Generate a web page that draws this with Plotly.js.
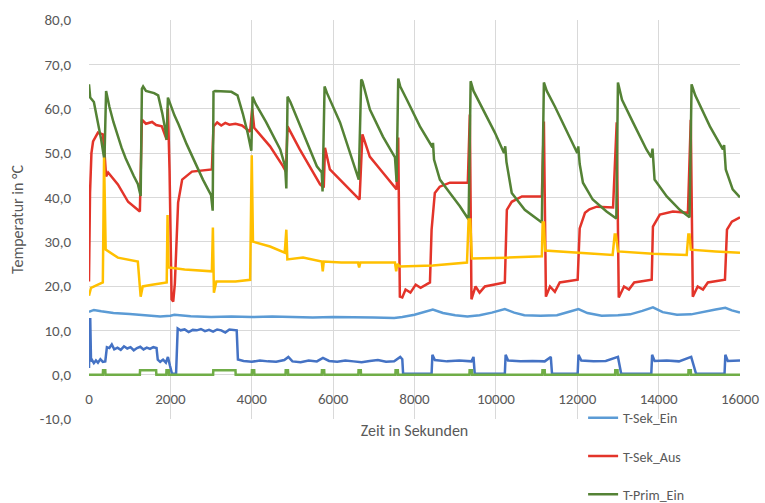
<!DOCTYPE html>
<html>
<head>
<meta charset="utf-8">
<script src="https://cdn.plot.ly/plotly-3.0.1.min.js"></script>
<style>html,body{margin:0;padding:0;background:#fff;}#chart{width:765px;height:503px;}</style>
</head>
<body>
<div id="chart"></div>
<script>
// ---- Data (time in s, temperature in °C) ----
const xTickVals = [0, 2000, 4000, 6000, 8000, 10000, 12000, 14000, 16000];
const yTickVals = [-10, 0, 10, 20, 30, 40, 50, 60, 70, 80];
const yTickText = ["-10,0", "0,0", "10,0", "20,0", "30,0", "40,0", "50,0", "60,0", "70,0", "80,0"];

const sekEinX = [0,120,300,600,1000,1500,1750,2000,2100,2500,3000,3500,4000,4500,5000,5500,6000,6500,7000,7500,7700,8000,8200,8450,8700,9000,9300,9600,9900,10220,10450,10700,11100,11500,11800,12030,12250,12600,13000,13300,13600,13860,14100,14450,14800,15100,15400,15640,15800,16000];
const sekEinY = [14.2,14.6,14.3,13.9,13.7,13.4,13.1,13.3,13.5,13.2,13.0,13.1,13.0,13.1,13.0,12.9,13.0,13.0,12.9,12.8,13.0,13.5,14.0,14.7,13.9,13.4,13.1,13.4,14.0,14.8,14.0,13.4,13.3,13.4,14.2,14.8,13.9,13.3,13.4,13.6,14.4,15.2,14.1,13.5,13.6,14.2,14.7,15.1,14.5,14.0];

const sekAusX = [0,25,60,100,220,340,380,420,470,710,960,1250,1300,1400,1550,1650,1790,1910,1940,1980,2030,2070,2110,2190,2290,2530,3020,3060,3150,3250,3350,3450,3600,3760,3960,4010,4060,4450,4770,4840,4880,5180,5680,5770,5800,5920,6240,6610,6650,6720,6900,7220,7560,7600,7640,7700,7780,7900,8030,8150,8380,8420,8500,8620,8870,9310,9360,9400,9500,9600,9730,10220,10270,10390,10640,11130,11180,11230,11330,11450,11570,12010,12060,12190,12300,12480,12880,12970,13020,13150,13270,13400,13830,13860,14030,14350,14720,14790,14840,14960,15090,15210,15630,15680,15800,16000];
const sekAusY = [21,41,50,52.6,54.6,54.2,50.3,44.7,45.6,42.9,39,36.8,57.5,56.6,57.0,56.3,56,53,60.2,46,17,16.5,20.5,38.8,44,45.8,46.3,56,56.9,56.2,56.8,56.4,56.6,56.2,54.8,60,55.7,51.5,47,45.8,56,50.8,42.9,42.2,51.2,46.3,43.3,40,39.5,54.2,49.2,45.6,41.8,53.5,17.6,17.4,19.2,18.5,20.3,19.6,20.8,32.7,41,42.4,43.3,43.3,58.7,17,19.9,18.5,19.9,20.8,37.2,39,40.2,40.2,57.1,17.6,19.9,18.7,20.8,21.4,33,36.5,37.3,37.9,37.7,56.9,17.4,19.9,19.2,20.8,21.4,33.4,36.1,36.8,36.5,57.5,17.6,19.9,19.2,20.8,21.4,32.7,34.5,35.5];

const primEinX = [0,30,120,200,300,360,380,420,500,600,700,800,900,1000,1100,1200,1270,1300,1330,1400,1600,1700,1800,1880,1905,1940,2000,2100,2200,2400,2600,2800,3000,3040,3060,3100,3500,3650,3780,3900,3990,4020,4100,4350,4700,4820,4850,4880,4950,5260,5600,5720,5740,5790,5850,6170,6580,6630,6690,6720,6904,7224,7520,7560,7600,7650,7813,8133,8440,8455,8480,8624,8870,9115,9330,9380,9450,9650,9975,10200,10230,10260,10390,10710,11130,11180,11250,11450,11770,12000,12025,12060,12140,12380,12720,12960,13000,13100,13370,13700,13820,13850,13900,14200,14520,14760,14810,14900,15260,15580,15610,15650,15820,16000];
const primEinY = [65.5,62.5,61.5,58,53,49.5,48.5,64,60.5,57,54,51.2,48.8,46.7,44.8,43,40.3,64.5,65,64,63.5,63,59,55,53,62.5,61,58.5,56.5,52,48,44,40.5,37,63.8,64,63.8,63,58.9,54.5,50.5,62.7,61,57,50.8,47,42,62.7,61.5,54.6,47,45.6,41.3,65,63.5,56.9,45,44,66.6,66.2,59.8,53.7,49,43.5,66.8,65,62,56,51.3,52.3,48.5,44,41,38,35,66.2,64,60.5,54.6,50,51.5,48,41,37.2,34.3,65.9,64,60.5,54.6,50,51.5,47.5,43.3,39.5,36.8,35.2,65.9,62,56.9,50.8,49,51,44,40.2,37.2,35.5,65.5,63,56,50.8,51.8,46.3,41.8,40];

const primAusX = [0,50,220,340,370,410,710,1200,1270,1320,1550,1910,1930,1955,2350,3020,3045,3070,3130,3600,3960,4000,4030,4450,4810,4850,4875,5260,5720,5745,5770,6200,6610,6640,6670,7520,7550,7580,7640,8450,9290,9330,9370,9410,10270,11130,11150,11180,11210,12060,12870,12920,12950,13000,13860,14690,14730,14760,14790,15400,16000];
const primAusY = [17.8,19.6,20.3,20.8,49,28.2,26.4,25.5,17.6,19.9,20.3,20.8,36,24.2,23.7,23.3,33.2,18.5,21,21,21.4,49.5,30,28.9,27.5,32.7,26,26.4,25.5,23.3,25.5,25.3,25.3,24.2,25.3,25.3,23.3,25,24.4,24.6,25.3,35,35,26.2,26.4,26.7,34.3,34.3,28,27.5,27,31.6,31.6,27.8,27.3,27,31.6,31.6,28.2,27.8,27.5];

const flowX = [0,30,50,75,120,170,220,280,340,400,440,500,560,620,700,780,860,940,1020,1100,1180,1260,1340,1420,1500,1580,1660,1690,1750,1820,1890,1940,1990,2040,2140,2180,2250,2350,2450,2550,2650,2750,2850,2950,3050,3150,3250,3350,3450,3550,3630,3660,3800,4000,4200,4400,4600,4800,4900,5000,5200,5400,5600,5750,5900,6100,6300,6500,6700,6900,7100,7300,7500,7650,7700,7720,8420,8440,8500,8800,9100,9400,9450,9480,9500,10220,10240,10300,10600,10900,11200,11350,11380,11400,12010,12030,12100,12400,12700,13000,13080,13100,13820,13840,13900,14200,14500,14800,14920,14940,15620,15640,15700,16000];
const flowY = [1.5,12.8,3.0,3.3,2.6,3.2,2.7,3.5,2.9,3.0,6.2,6.0,6.8,5.7,6.1,5.6,6.4,5.9,6.2,5.5,6.0,6.3,5.7,6.1,5.8,6.2,6.0,3.4,2.9,3.4,2.7,4.0,2.0,0.2,0.2,10.4,10.0,10.2,9.6,10.1,10.0,10.3,9.8,10.1,9.7,10.2,10.0,9.5,10.2,10.0,10.0,3.4,3.1,2.9,3.2,3.0,2.9,3.3,4.0,3.0,2.8,3.2,3.0,3.8,3.1,2.9,3.2,3.0,2.8,3.1,3.3,2.9,3.0,4.0,3.5,0.2,0.2,4.5,3.3,3.0,3.2,3.0,4.0,0.2,0.2,0.2,4.5,3.2,3.0,3.1,3.0,4.0,0.2,0.2,0.2,4.5,3.2,3.0,3.1,4.0,0.2,0.2,0.2,4.5,3.1,3.2,3.0,4.0,0.2,0.2,0.2,4.5,3.1,3.2];

const pumpX = [0,340,345,400,405,1250,1255,1650,1655,1900,1905,1960,1965,3050,3055,3600,3605,4000,4005,4060,4065,4830,4835,4890,4895,5720,5725,5780,5785,6620,6625,6680,6685,7530,7535,7590,7595,9350,9355,9410,9415,11140,11145,11200,11205,12930,12935,12990,12995,14730,14735,14790,14795,16000];
const pumpY = [0,0,1,1,0,0,1,1,0,0,1,1,0,0,1,1,0,0,1,1,0,0,1,1,0,0,1,1,0,0,1,1,0,0,1,1,0,0,1,1,0,0,1,1,0,0,1,1,0,0,1,1,0,0];

const seriesNames = ["T-Sek_Ein", "T-Sek_Aus", "T-Prim_Ein", "T-Prim_Aus", "Volumenstrom", "Pumpe"];
const seriesColors = ["#5b9bd5", "#e3342a", "#548235", "#ffc000", "#4472c4", "#70ad47"];

// ---- Build traces ----
const xs = [sekEinX, sekAusX, primEinX, primAusX, flowX, pumpX];
const ys = [sekEinY, sekAusY, primEinY, primAusY, flowY, pumpY];
const traces = xs.map((x, i) => ({
  type: "scatter", mode: "lines", x: x, y: ys[i], name: seriesNames[i],
  line: {color: seriesColors[i], width: 2.5},
  legendgroup: "g" + i,
  showlegend: i < 3
}));

const font = "Carlito, Lato, 'Open Sans', sans-serif";
const layout = {
  width: 765, height: 503,
  margin: {l: 89, r: 25, t: 20, b: 84, autoexpand: false},
  paper_bgcolor: "#fff", plot_bgcolor: "#fff",
  separators: ",.",
  font: {family: font, size: 14, color: "#595959"},
  showlegend: true,
  legend: {x: 0.759, y: 0.042, xanchor: "left", yanchor: "top", traceorder: "grouped",
           tracegroupgap: 17, bgcolor: "rgba(0,0,0,0)", font: {family: font, size: 14, color: "#595959"}},
  xaxis: {range: [0, 16000], tickvals: xTickVals, tickformat: "d",
          anchor: "free", position: 10/90,
          showgrid: true, gridcolor: "#d9d9d9", gridwidth: 1, zeroline: false, showline: false,
          ticks: "outside", ticklen: 10, tickcolor: "rgba(0,0,0,0)",
          tickfont: {size: 15, color: "#595959"},
          title: {text: "Zeit in Sekunden", font: {size: 16, color: "#595959"}, standoff: 18}},
  yaxis: {range: [-10, 80], tickvals: yTickVals, ticktext: yTickText,
          showgrid: true, gridcolor: "#d9d9d9", gridwidth: 1, zeroline: false, showline: false,
          ticks: "outside", ticklen: 14, tickcolor: "rgba(0,0,0,0)",
          tickfont: {size: 15, color: "#595959"},
          title: {text: "Temperatur in °C", font: {size: 16, color: "#595959"}, standoff: 12}}
};

Plotly.newPlot("chart", traces, layout, {displayModeBar: false, staticPlot: true});
</script>
</body>
</html>
